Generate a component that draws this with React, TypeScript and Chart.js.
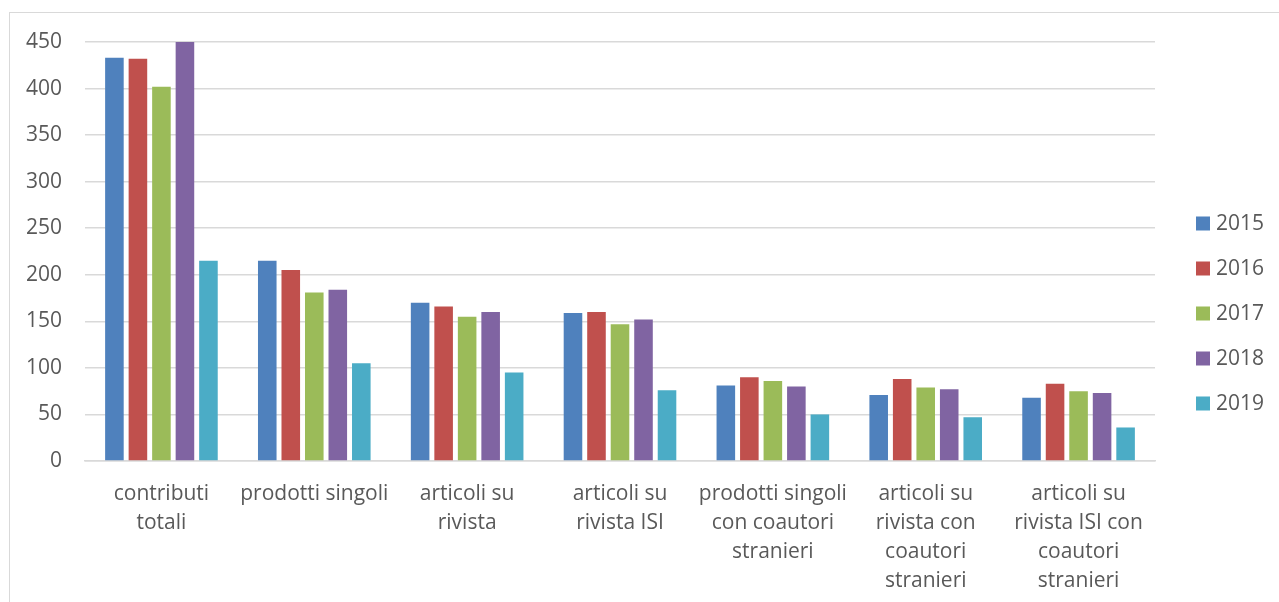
import React, { useEffect, useRef } from "react";
import { Chart, registerables } from "chart.js";

Chart.register(...registerables);

const categories: (string | string[])[] = [
  ["contributi", "totali"],
  "prodotti singoli",
  ["articoli su", "rivista"],
  ["articoli su", "rivista ISI"],
  ["prodotti singoli", "con coautori", "stranieri"],
  ["articoli su", "rivista con", "coautori", "stranieri"],
  ["articoli su", "rivista ISI con", "coautori", "stranieri"],
];

const years = ["2015", "2016", "2017", "2018", "2019"];
const values2015 = [433, 215, 170, 159, 81, 71, 68];
const values2016 = [432, 205, 166, 160, 90, 88, 83];
const values2017 = [402, 181, 155, 147, 86, 79, 75];
const values2018 = [450, 184, 160, 152, 80, 77, 73];
const values2019 = [215, 105, 95, 76, 50, 47, 36];
const colors = ["#4F81BD", "#C0504D", "#9BBB59", "#8064A2", "#4BACC6"];

const FONT = "'Open Sans', sans-serif";
const TEXT = "#595959";

const legendPlugin = {
  id: "sideLegend",
  afterDraw(chart: any) {
    const ctx = chart.ctx;
    const ds = chart.data.datasets;
    const step = 45;
    const startY = chart.height / 2 + 6 - ((ds.length - 1) * step) / 2;
    const x = 1186;
    ctx.save();
    ctx.font = `21px ${FONT}`;
    ctx.textBaseline = "middle";
    ctx.textAlign = "left";
    ds.forEach((d: any, i: number) => {
      const y = startY + i * step;
      ctx.fillStyle = d.backgroundColor;
      ctx.fillRect(x, y - 7, 14, 14);
      ctx.fillStyle = TEXT;
      ctx.fillText(d.label, x + 20, y + 1);
    });
    ctx.restore();
  },
};

const zeroPad = (scale: any) => {
  scale.paddingLeft = 0;
  scale.paddingRight = 0;
  scale.paddingTop = 0;
  scale.paddingBottom = 0;
};

export default function App() {
  const ref = useRef<HTMLCanvasElement | null>(null);
  useEffect(() => {
    document.body.style.overflow = "hidden";
    const series = [values2015, values2016, values2017, values2018, values2019];
    const chart = new Chart(ref.current!, {
      type: "bar",
      data: {
        labels: categories,
        datasets: years.map((y, i) => ({
          label: y,
          data: series[i],
          backgroundColor: colors[i],
          categoryPercentage: 0.769,
          barPercentage: 0.79,
        })),
      },
      options: {
        animation: false,
        responsive: false,
        maintainAspectRatio: false,
        layout: { padding: { left: 16, right: 124, top: 29, bottom: 0 } },
        plugins: { legend: { display: false }, tooltip: { enabled: false } },
        scales: {
          x: {
            grid: { display: false, drawTicks: false },
            border: { display: true, color: "#d9d9d9", width: 1.5 },
            ticks: {
              color: TEXT,
              font: { family: FONT, size: 21, lineHeight: 1.38 },
              maxRotation: 0,
              autoSkip: false,
              padding: 19,
            },
            afterFit(scale: any) {
              zeroPad(scale);
              scale.height = 141;
            },
          },
          y: {
            min: 0,
            max: 450,
            grid: { color: "#d9d9d9", lineWidth: 1.5, drawTicks: false },
            border: { display: false },
            ticks: {
              stepSize: 50,
              color: TEXT,
              font: { family: FONT, size: 21, lineHeight: 1.2 },
              padding: 23,
            },
            afterFit(scale: any) {
              zeroPad(scale);
              scale.width = 59;
            },
          },
        },
      },
      plugins: [legendPlugin],
    });
    return () => chart.destroy();
  }, []);
  return (
    <div
      style={{
        position: "fixed",
        left: 9,
        top: 12,
        width: 1270,
        height: 590,
        borderTop: "1px solid #d9d9d9",
        borderLeft: "1px solid #d9d9d9",
        background: "#fff",
      }}
    >
      <canvas ref={ref} width={1269} height={589} style={{ display: "block" }} />
    </div>
  );
}
